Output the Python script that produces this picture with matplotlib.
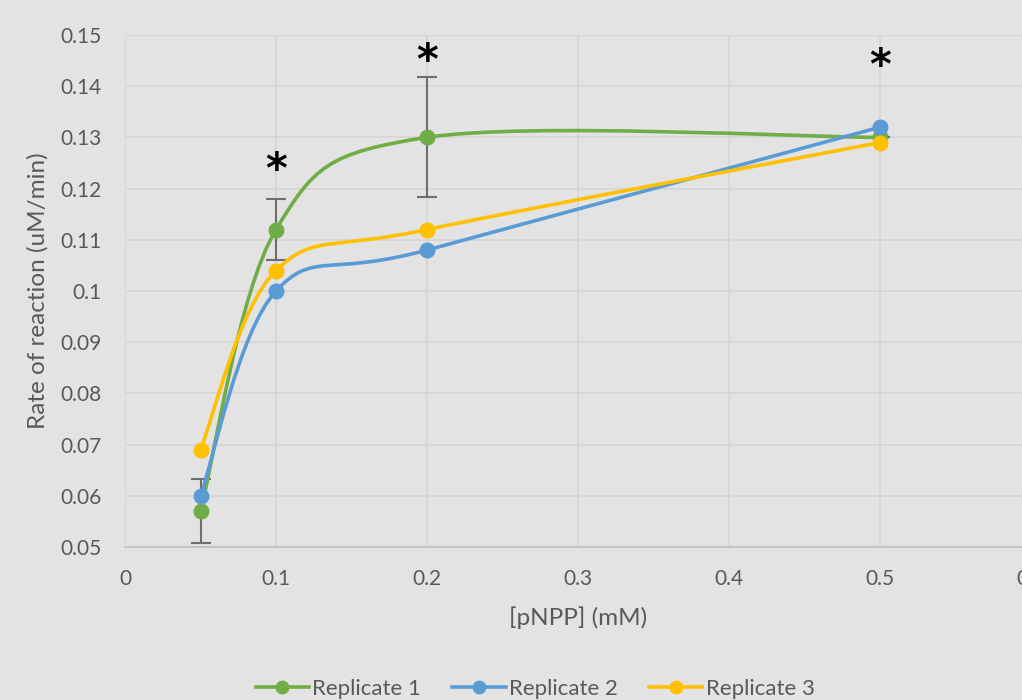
import numpy as np
import matplotlib
matplotlib.use("Agg")
import matplotlib.pyplot as plt
from matplotlib.path import Path
from matplotlib.patches import PathPatch
from matplotlib.lines import Line2D

plt.rcParams['font.family'] = ['Lato', 'DejaVu Sans']

# data
conc = [0.05, 0.1, 0.2, 0.5]
rep1 = [0.057, 0.112, 0.130, 0.130]
rep2 = [0.060, 0.100, 0.108, 0.132]
rep3 = [0.069, 0.104, 0.112, 0.129]
rep1_err = [0.0063, 0.006, 0.0117, 0.0]
names = ["Replicate 1", "Replicate 2", "Replicate 3"]
colors = ["#70AD47", "#5B9BD5", "#FFC000"]
star_x = [0.1, 0.2, 0.5]
star_y = [0.1235, 0.1448, 0.1437]
xticks = [0, 0.1, 0.2, 0.3, 0.4, 0.5, 0.6]
xticklabels = ["0", "0.1", "0.2", "0.3", "0.4", "0.5", "0.6"]
yticks = [0.05, 0.06, 0.07, 0.08, 0.09, 0.10, 0.11, 0.12, 0.13, 0.14, 0.15]
yticklabels = ["0.05", "0.06", "0.07", "0.08", "0.09", "0.1",
               "0.11", "0.12", "0.13", "0.14", "0.15"]

BG = "#E3E3E3"
GRID = "#D5D5D5"
TXT = "#595959"

fig = plt.figure(figsize=(10.22, 7.0), dpi=100, facecolor=BG)
ax = fig.add_axes([125 / 1022, 153 / 700, 906 / 1022, 512 / 700])
ax.set_facecolor(BG)
ax.set_xlim(0, 0.6)
ax.set_ylim(0.05, 0.15)

# px per data unit, so the smoothing works in screen space like Excel
sx = 906 / 0.6
sy = 512 / 0.1


def smooth_path(xs, ys):
    """Catmull-Rom style bezier through the points (Excel smoothed line)."""
    p = np.column_stack([np.array(xs) * sx, np.array(ys) * sy])
    pts = np.vstack([p[0], p, p[-1]])
    verts = [p[0]]
    codes = [Path.MOVETO]
    for i in range(1, len(pts) - 2):
        c1 = pts[i] + (pts[i + 1] - pts[i - 1]) / 6
        c2 = pts[i + 1] - (pts[i + 2] - pts[i]) / 6
        verts += [c1, c2, pts[i + 1]]
        codes += [Path.CURVE4] * 3
    verts = np.array(verts) / [sx, sy]
    return Path(verts, codes)


ax.grid(True, color=GRID, linewidth=1.2)
ax.set_axisbelow(True)
for s in ["top", "right", "left"]:
    ax.spines[s].set_visible(False)
ax.spines["bottom"].set_color("#BFBFBF")
ax.spines["bottom"].set_linewidth(1.2)

# error bars for replicate 1
ax.errorbar(conc, rep1, yerr=rep1_err, fmt="none", ecolor="#6E6E6E",
            elinewidth=1.5, capsize=7, capthick=1.5, zorder=2)

for ys, c in zip([rep1, rep2, rep3], colors):
    ax.add_patch(PathPatch(smooth_path(conc, ys), facecolor="none",
                           edgecolor=c, linewidth=2.6, zorder=3,
                           capstyle="round"))
    ax.plot(conc, ys, linestyle="none", marker="o", markersize=10.5,
            color=c, zorder=4)

for x, y in zip(star_x, star_y):
    ax.text(x, y, "*", ha="center", va="center", fontsize=30,
            fontweight="bold", color="black", family="DejaVu Sans")

ax.set_xticks(xticks)
ax.set_xticklabels(xticklabels)
ax.set_yticks(yticks)
ax.set_yticklabels(yticklabels)
ax.tick_params(length=0, labelsize=15, colors=TXT)
ax.tick_params(axis="y", pad=17)
ax.tick_params(axis="x", pad=16)

ax.set_xlabel("[pNPP] (mM)", fontsize=17.5, color=TXT, labelpad=12)
ax.set_ylabel("Rate of reaction (uM/min)", fontsize=17.5, color=TXT,
              labelpad=8)

handles = [Line2D([], [], color=c, linewidth=2.6, marker="o", markersize=9)
           for c in colors]
fig.legend(handles, names, loc="center", bbox_to_anchor=(535 / 1022, 11 / 700),
           ncol=3, frameon=False, fontsize=16, labelcolor=TXT,
           handlelength=2.4, columnspacing=1.4, handletextpad=0.15)

fig.savefig("out.png", dpi=100, facecolor=BG)
